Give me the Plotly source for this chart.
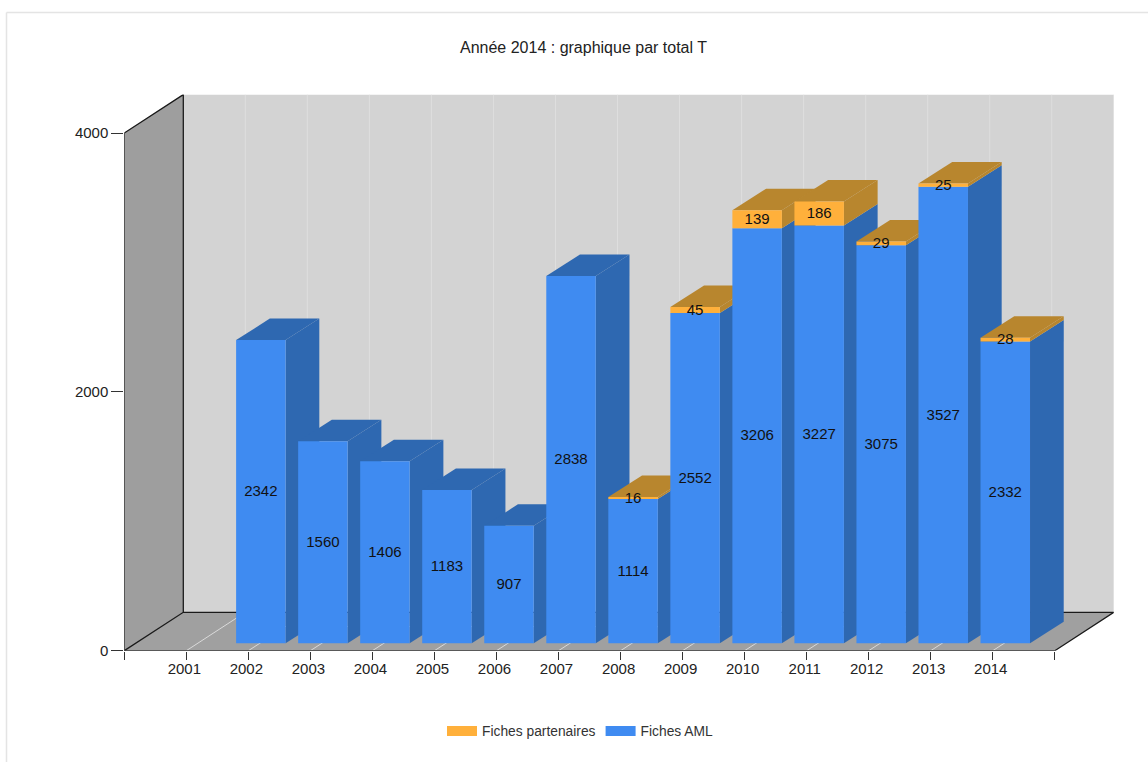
import plotly.graph_objects as go

# ---- data ----
years = ["2001", "2002", "2003", "2004", "2005", "2006", "2007", "2008",
         "2009", "2010", "2011", "2012", "2013", "2014"]
fiches_aml = [0, 2342, 1560, 1406, 1183, 907, 2838, 1114, 2552, 3206, 3227, 3075, 3527, 2332]
fiches_partenaires = [0, 0, 0, 0, 0, 0, 0, 16, 45, 139, 186, 29, 25, 28]
value_ticks = [0, 2000, 4000]

# ---- colours ----
BLUE, BLUE_SIDE = "#3F8BF1", "#2E68B1"
ORANGE, ORANGE_SIDE = "#FFB03B", "#B8862E"
WALL, FLOOR, BACK = "#9E9E9E", "#A0A0A0", "#D3D3D3"
INK = "#222222"

# ---- pseudo-3D projection ----
W, H = 1148, 762
X0, X1 = 124.3, 1054.8          # front plane, category slots 0..15
Y0, Y4000 = 650.7, 133.0        # front plane, values 0..4000
SLOTS = 15
PX_X = (X1 - X0) / SLOTS        # px per slot
PX_Y = (Y0 - Y4000) / 4000      # px per value unit
ymax = 4000
depth_x, depth_y = 59 / PX_X, 38.4 / PX_Y      # whole box depth
gap_x, gap_y = 12.5 / PX_X, 7.5 / PX_Y         # bar front vs. front plane
bar_dx, bar_dy = 33.7 / PX_X, 21.5 / PX_Y      # bar depth
bar_w = 49.5 / PX_X
label_nudge = 1 / PX_Y

fig = go.Figure()


def poly(xs, ys, color):
    fig.add_trace(go.Scatter(x=xs + xs[:1], y=ys + ys[:1], mode="lines", fill="toself",
                             fillcolor=color, line=dict(width=0, color=color),
                             hoverinfo="skip", showlegend=False))


def line(xs, ys, color, width=1.3):
    fig.add_trace(go.Scatter(x=xs, y=ys, mode="lines", line=dict(color=color, width=width),
                             hoverinfo="skip", showlegend=False))


# walls and floor
poly([0, depth_x, depth_x, 0], [0, depth_y, ymax + depth_y, ymax], WALL)
poly([depth_x, SLOTS + depth_x, SLOTS + depth_x, depth_x],
     [depth_y, depth_y, ymax + depth_y, ymax + depth_y], BACK)
poly([0, SLOTS, SLOTS + depth_x, depth_x], [0, 0, depth_y, depth_y], FLOOR)

# category grid on the floor and on the back wall
for k in range(1, SLOTS + 1):
    if k < SLOTS:
        line([k, k + depth_x], [0, depth_y], "#DADADA", 1)
    line([k + depth_x, k + depth_x], [depth_y, ymax + depth_y], "#DEDEDE", 1)

# box edges
line([0, 0, depth_x, depth_x], [0, ymax, ymax + depth_y, depth_y], "#1A1A1A")
line([0, depth_x, SLOTS + depth_x, SLOTS], [0, depth_y, depth_y, 0], "#1A1A1A")
line([0, SLOTS], [0, 0], "#333333")

# side and top faces of the columns, left to right
cats = list(range(1, len(years) + 1))
left = [k + gap_x - bar_w / 2 for k in cats]
for i, a in enumerate(fiches_aml):
    p = fiches_partenaires[i]
    if a + p == 0:
        continue
    xl, xr = left[i], left[i] + bar_w
    b0, b1, b2 = gap_y, gap_y + a, gap_y + a + p
    poly([xr, xr + bar_dx, xr + bar_dx, xr], [b0, b0 + bar_dy, b1 + bar_dy, b1], BLUE_SIDE)
    if p:
        poly([xr, xr + bar_dx, xr + bar_dx, xr], [b1, b1 + bar_dy, b2 + bar_dy, b2], ORANGE_SIDE)
    poly([xl, xr, xr + bar_dx, xl + bar_dx], [b2, b2, b2 + bar_dy, b2 + bar_dy],
         ORANGE_SIDE if p else BLUE_SIDE)

# column fronts and value labels live on an overlaying pair of axes, above all faces
centers = [l + bar_w / 2 for l in left]
bases_blue = [gap_y] * len(cats)
bases_orange = [gap_y + a for a in fiches_aml]
fig.add_trace(go.Bar(x=centers, y=fiches_aml, base=bases_blue, width=bar_w, opacity=1,
                     marker=dict(color=BLUE, opacity=1, line=dict(width=0)),
                     xaxis="x2", yaxis="y2", name="Fiches AML", showlegend=False))
fig.add_trace(go.Bar(x=centers, y=fiches_partenaires, base=bases_orange, width=bar_w, opacity=1,
                     marker=dict(color=ORANGE, opacity=1, line=dict(width=0)),
                     xaxis="x2", yaxis="y2", name="Fiches partenaires", showlegend=False))

lab_x, lab_y, lab_t = [], [], []
for i, a in enumerate(fiches_aml):
    if a:
        lab_x.append(centers[i]); lab_y.append(gap_y + a / 2 - label_nudge); lab_t.append(str(a))
    p = fiches_partenaires[i]
    if p:
        lab_x.append(centers[i]); lab_y.append(gap_y + a + p / 2 - label_nudge); lab_t.append(str(p))
fig.add_trace(go.Scatter(x=lab_x, y=lab_y, text=lab_t, mode="text", textposition="middle center",
                         textfont=dict(family="Liberation Sans", size=15, color="#111111"),
                         xaxis="x2", yaxis="y2", hoverinfo="skip", showlegend=False))

# legend entries
for name, col in (("Fiches partenaires", ORANGE), ("Fiches AML", BLUE)):
    fig.add_trace(go.Scatter(x=[None], y=[None], mode="lines", name=name,
                             line=dict(color=col, width=10), hoverinfo="skip"))

x_dom = [X0 / W, (X1 + 59) / W]
y_top_px = Y4000 - 38.4
y_dom = [1 - Y0 / H, 1 - y_top_px / H]
x_rng = [0, SLOTS + depth_x]
y_rng = [0, ymax + depth_y]

fig.update_layout(
    width=W, height=H, autosize=False,
    margin=dict(l=0, r=0, t=0, b=0, autoexpand=False),
    paper_bgcolor="white", plot_bgcolor="rgba(0,0,0,0)",
    barmode="overlay",
    font=dict(family="Liberation Sans", size=14, color=INK),
    title=dict(text="Année 2014 : graphique par total T", x=583.5 / W, xanchor="center",
               y=1 - 47 / H, yanchor="middle", font=dict(size=16, color=INK)),
    xaxis=dict(domain=x_dom, range=x_rng, tickmode="array",
               tickvals=list(range(SLOTS + 1)), ticktext=[""] + years + [""],
               ticks="outside", ticklen=8, tickcolor="#333333", showgrid=False,
               zeroline=False, showline=False, tickfont=dict(size=15, color=INK),
               ticklabelstandoff=-4, ticklabelshift=-2),
    yaxis=dict(domain=y_dom, range=y_rng, tickmode="array", tickvals=value_ticks,
               ticktext=[str(v) for v in value_ticks], ticks="outside", ticklen=12,
               tickcolor="#333333", showgrid=False, zeroline=False, showline=False,
               tickfont=dict(size=15, color=INK)),
    xaxis2=dict(domain=x_dom, range=x_rng, overlaying="x", visible=False),
    yaxis2=dict(domain=y_dom, range=y_rng, overlaying="y", visible=False),
    legend=dict(orientation="h", x=580 / W, xanchor="center", y=1 - 731 / H, yanchor="middle",
                font=dict(size=13.8, color="#333333"), bgcolor="rgba(0,0,0,0)",
                traceorder="normal"),
    showlegend=True,
    shapes=[
        dict(type="line", xref="paper", yref="paper", x0=6.5 / W, x1=1,
             y0=1 - 12.5 / H, y1=1 - 12.5 / H, line=dict(color="#E4E4E4", width=1.5)),
        dict(type="line", xref="paper", yref="paper", x0=6.5 / W, x1=6.5 / W,
             y0=1 - 12.5 / H, y1=0, line=dict(color="#E4E4E4", width=1.5)),
    ],
)

fig.write_html("out.html", config=dict(displayModeBar=False),
               post_script="document.body.style.margin='0';document.body.style.overflow='hidden';")
